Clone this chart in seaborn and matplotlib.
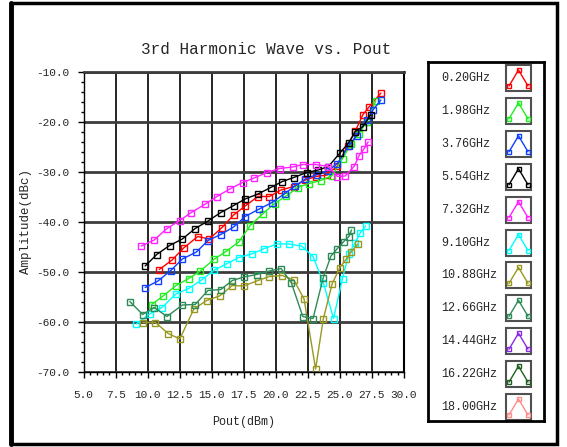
import numpy as np
import pandas as pd
import matplotlib
matplotlib.use("Agg")
import matplotlib.pyplot as plt
from matplotlib.ticker import MultipleLocator, FormatStrFormatter
from matplotlib.patches import Rectangle
import seaborn as sns

# --- data (Pout in dBm, amplitude in dBc) ---
freq_labels = ["0.20GHz", "1.98GHz", "3.76GHz", "5.54GHz", "7.32GHz", "9.10GHz",
               "10.88GHz", "12.66GHz", "14.44GHz", "16.22GHz", "18.00GHz"]
freq_colors = ["#ff0000", "#22ee22", "#1040ff", "#000000", "#ff22ff", "#00ffff",
               "#999922", "#2e8b57", "#8a2be2", "#1f5f1f", "#ff8c8c"]

pout_020 = [10.9, 11.9, 12.8, 13.9, 14.8, 15.8, 16.7, 17.6, 18.6, 19.5, 20.4,
            21.4, 22.3, 23.1, 24.0, 24.8, 25.6, 26.2, 26.8, 27.3, 28.2]
amp_020 = [-49.5, -47.6, -45.2, -42.9, -43.4, -41.1, -38.6, -36.8, -34.9, -34.9, -33.6,
           -32.9, -31.6, -30.9, -30.6, -28.8, -24.7, -21.8, -18.5, -16.9, -14.2]

pout_198 = [10.3, 11.2, 12.2, 13.2, 14.1, 15.2, 16.1, 17.1, 18.0, 19.0, 19.9,
            20.8, 21.7, 22.6, 23.5, 24.4, 25.2, 25.9, 26.5, 27.1, 27.8]
amp_198 = [-56.5, -54.8, -52.7, -51.3, -49.8, -47.4, -45.9, -44.0, -40.7, -38.3, -36.3,
           -34.8, -33.1, -32.3, -31.7, -30.7, -27.3, -24.3, -22.3, -19.9, -15.8]

pout_376 = [9.8, 10.8, 11.8, 12.7, 13.8, 14.7, 15.7, 16.7, 17.6, 18.7, 19.7,
            20.7, 21.5, 22.3, 23.2, 24.1, 24.8, 25.7, 26.3, 27.1, 27.6, 28.2]
amp_376 = [-53.1, -51.8, -49.7, -47.4, -46.0, -43.7, -42.5, -41.0, -38.9, -37.4, -36.1,
           -34.3, -32.8, -31.4, -30.5, -29.7, -28.3, -24.7, -22.7, -19.5, -17.5, -15.6]

pout_554 = [9.8, 10.7, 11.7, 12.7, 13.7, 14.7, 15.7, 16.7, 17.6, 18.6, 19.6,
            20.5, 21.4, 22.4, 23.3, 24.1, 25.0, 25.7, 26.2, 26.8, 27.4]
amp_554 = [-48.8, -46.5, -44.7, -43.4, -41.3, -39.8, -38.1, -36.7, -35.4, -34.4, -33.1,
           -31.9, -31.1, -30.1, -29.6, -28.9, -26.2, -24.1, -21.9, -20.9, -18.6]

pout_732 = [9.5, 10.5, 11.5, 12.5, 13.4, 14.5, 15.4, 16.4, 17.4, 18.3, 19.3,
            20.3, 21.3, 22.1, 23.1, 24.1, 24.8, 25.4, 26.1, 26.5, 26.9, 27.2]
amp_732 = [-44.8, -43.6, -41.3, -39.7, -38.1, -36.4, -34.9, -33.4, -32.1, -31.2, -30.1,
           -29.3, -29.0, -28.5, -28.5, -28.9, -30.9, -30.8, -28.9, -26.7, -25.3, -24.0]

pout_910 = [9.1, 10.2, 11.1, 12.2, 13.2, 14.2, 15.2, 16.2, 17.1, 18.1, 19.1,
            20.1, 21.0, 22.0, 22.9, 23.7, 24.5, 25.2, 25.7, 26.2, 26.6, 27.0]
amp_910 = [-60.4, -58.3, -57.1, -54.4, -53.3, -51.6, -49.6, -48.3, -47.1, -46.4, -45.3,
           -44.4, -44.4, -44.8, -46.9, -52.1, -59.3, -51.3, -46.3, -44.1, -42.1, -40.8]

pout_1088 = [9.6, 10.6, 11.6, 12.5, 13.6, 14.6, 15.6, 16.6, 17.5, 18.6, 19.5,
             20.5, 21.4, 22.2, 23.1, 23.7, 24.4, 25.0, 25.5, 25.9, 26.4]
amp_1088 = [-60.1, -60.1, -62.3, -63.4, -57.4, -55.7, -54.8, -52.7, -52.8, -51.7, -50.9,
            -50.7, -51.6, -55.4, -69.4, -59.4, -52.3, -49.1, -47.4, -45.9, -44.4]

pout_1266 = [8.6, 9.6, 10.5, 11.5, 12.7, 13.7, 14.7, 15.7, 16.6, 17.5, 18.5,
             19.5, 20.4, 21.2, 22.1, 22.9, 23.7, 24.3, 24.8, 25.3, 25.7, 25.9]
amp_1266 = [-55.9, -58.5, -57.1, -58.9, -56.6, -56.5, -53.7, -53.5, -51.7, -51.0, -50.5,
            -49.8, -49.3, -52.1, -58.9, -59.3, -51.1, -46.8, -45.3, -43.9, -42.9, -41.6]

series = {
    "0.20GHz": (pout_020, amp_020),
    "1.98GHz": (pout_198, amp_198),
    "3.76GHz": (pout_376, amp_376),
    "5.54GHz": (pout_554, amp_554),
    "7.32GHz": (pout_732, amp_732),
    "9.10GHz": (pout_910, amp_910),
    "10.88GHz": (pout_1088, amp_1088),
    "12.66GHz": (pout_1266, amp_1266),
}

x_ticks = np.arange(5.0, 30.01, 2.5)
y_ticks = np.arange(-70.0, -9.99, 10.0)

W, H = 567, 447

sns.set_style("white")
plt.rcParams["font.family"] = ["Liberation Mono", "DejaVu Sans Mono"]

fig = plt.figure(figsize=(W / 100, H / 100), dpi=100)
fig.patch.set_facecolor("white")

# outer frame
bg = fig.add_axes([0, 0, 1, 1], zorder=-5)
bg.set_xlim(0, W)
bg.set_ylim(H, 0)
bg.axis("off")
bg.add_patch(Rectangle((10.5, 3), 546, 441, fill=False, ec="black", lw=2.5))
bg.plot([10.5, 10.5], [3, 444], color="black", lw=3.5)

# main plot
ax = fig.add_axes([83.7 / W, 1 - 372 / H, (404 - 83.7) / W, (372 - 72) / H])
for lbl in freq_labels:
    if lbl not in series:
        continue
    xs, ys = series[lbl]
    col = freq_colors[freq_labels.index(lbl)]
    df = pd.DataFrame({"pout": xs, "amp": ys})
    sns.lineplot(data=df, x="pout", y="amp", ax=ax, color=col, lw=1.0,
                 marker="s", markersize=4.5, markerfacecolor="none",
                 markeredgecolor=col, markeredgewidth=1.0,
                 sort=False, estimator=None, legend=False, clip_on=False)

ax.set_xlim(5, 30)
ax.set_ylim(-70, -10)
ax.set_xticks(x_ticks)
ax.set_yticks(y_ticks)
ax.xaxis.set_major_formatter(FormatStrFormatter("%.1f"))
ax.yaxis.set_major_formatter(FormatStrFormatter("%.1f"))
ax.xaxis.set_minor_locator(MultipleLocator(0.5))
ax.yaxis.set_minor_locator(MultipleLocator(2))
ax.tick_params(axis="both", which="major", direction="out", length=4, width=1,
               color="black", labelsize=8, bottom=True, left=True)
ax.tick_params(axis="x", which="major", pad=9)
ax.tick_params(axis="y", which="major", pad=6)
ax.tick_params(axis="both", which="minor", direction="out", length=2.5, width=1,
               color="black", bottom=True, left=True)
ax.xaxis.grid(True, color="black", lw=1.2)
ax.yaxis.grid(True, color="#3c3c3c", lw=2)
ax.set_axisbelow(True)
for side in ["left", "bottom"]:
    ax.spines[side].set_color("black")
    ax.spines[side].set_linewidth(1.0)
ax.spines["top"].set_color("#3c3c3c")
ax.spines["top"].set_linewidth(2)
ax.spines["right"].set_color("black")
ax.spines["right"].set_linewidth(1.5)
ax.set_xlabel("Pout(dBm)", fontsize=8.5)
ax.set_ylabel("Amplitude(dBc)", fontsize=9)
ax.xaxis.set_label_coords(0.5, -(416 - 372) / 300)
ax.yaxis.set_label_coords((32 - 83.7) / 320.3, 0.5)

fig.text(266 / W, 1 - 49 / H, "3rd Harmonic Wave vs. Pout", fontsize=11.5,
         ha="center", va="center")

# legend panel
lax = fig.add_axes([428 / W, 1 - 421 / H, 116 / W, 359 / H])
lax.set_xlim(0, 116)
lax.set_ylim(359, 0)
lax.set_xticks([])
lax.set_yticks([])
for s in lax.spines.values():
    s.set_color("black")
    s.set_linewidth(2)
for i, (lbl, col) in enumerate(zip(freq_labels, freq_colors)):
    yc = 16 + i * 32.9
    lax.text(13, yc, lbl, fontsize=8.5, ha="left", va="center")
    lax.add_patch(Rectangle((78, yc - 13), 25, 26, fill=False, ec="#505050", lw=1.5))
    lax.plot([81, 90.5, 100], [yc + 8, yc - 8, yc + 8], color=col, lw=1,
             marker="s", markersize=3, markerfacecolor="none", markeredgecolor=col)

fig.savefig("out.png", dpi=100, facecolor="white")
